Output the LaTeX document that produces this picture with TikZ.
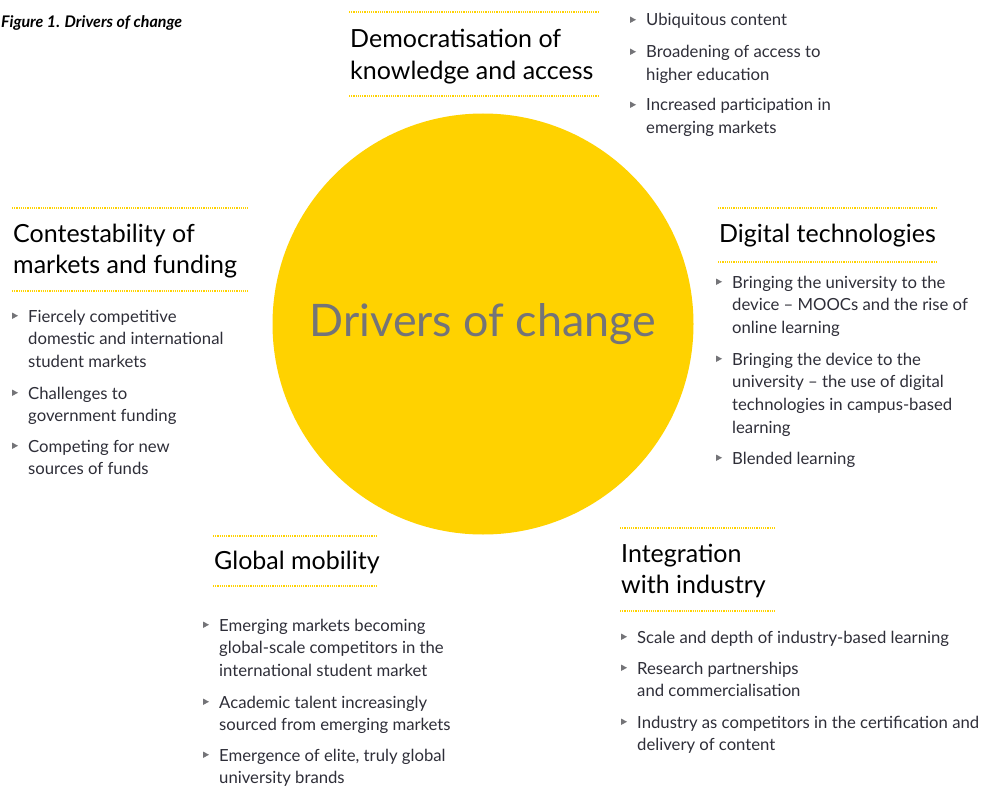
\documentclass[tikz,border=0pt]{standalone}
\usepackage{fontspec}
\setmainfont{Lato}
\definecolor{eyyellow}{HTML}{FFD200}
\definecolor{hubtext}{HTML}{747478}
\definecolor{bodytext}{HTML}{2E2E38}
\definecolor{tri}{HTML}{747478}
% #1 name, #2 x, #3 first baseline, #4 number of lines, #5 text
\newcommand{\bullitem}[5]{%
  \coordinate (#1t) at (#2,#3);
  \node[itemtext] (#1) at (#2,{#3+22.7*(#4-1)}) {#5};
  \fill[tri] ([xshift=-16pt,yshift=9.5pt]#1t) -- ++(0,6.5) -- ++(6,-3.25) -- cycle;
}
\newcommand{\headnode}[5]{%
  \node[headtext] (#1) at (#2,{#3+31.5*(#4-1)}) {#5};
}
\begin{document}
\begin{tikzpicture}[x=1pt,y=-1pt,
  itemtext/.style={anchor=base west, align=left, inner sep=0pt, text=bodytext,
    font=\fontsize{16.7}{22.7}\selectfont},
  headtext/.style={anchor=base west, align=left, inner sep=0pt, text=black,
    font=\fontsize{25}{31.5}\selectfont},
  dotline/.style={draw=eyyellow, line width=2pt, dash pattern=on 1.2pt off 1pt}]
\useasboundingbox (0,0) rectangle (985,789);
\node[anchor=base west, inner sep=0pt, font=\bfseries\itshape\fontsize{16}{18}\selectfont] (fig) at (1,28) {Figure 1. Drivers of change};

% hub
\node[circle, fill=eyyellow, minimum size=421pt, inner sep=0pt, text=hubtext,
  font=\fontsize{44.8}{50}\selectfont] (hub) at (483,324) {Drivers of change};

% Democratisation
\coordinate (t1a) at (349,12); \coordinate (t1b) at (598,12);
\coordinate (t2a) at (349,96); \coordinate (t2b) at (598,96);
\draw[dotline] (t1a) -- (t1b);
\draw[dotline] (t2a) -- (t2b);
\headnode{demo}{350}{48}{2}{Democratisation of\\knowledge and access}
\bullitem{d1}{646}{26}{1}{Ubiquitous content}
\bullitem{d2}{646}{58}{2}{Broadening of access to\\higher education}
\bullitem{d3}{646}{111}{2}{Increased participation in\\emerging markets}

% Contestability
\coordinate (c1a) at (12,208); \coordinate (c1b) at (248,208);
\coordinate (c2a) at (12,291); \coordinate (c2b) at (248,291);
\draw[dotline] (c1a) -- (c1b);
\draw[dotline] (c2a) -- (c2b);
\headnode{cont}{13}{242}{2}{Contestability of\\markets and funding}
\bullitem{c1}{28}{322}{3}{Fiercely competitive\\domestic and international\\student markets}
\bullitem{c2}{28}{399}{2}{Challenges to\\government funding}
\bullitem{c3}{28}{452}{2}{Competing for new\\sources of funds}

% Digital technologies
\coordinate (g1a) at (718,208); \coordinate (g1b) at (936,208);
\coordinate (g2a) at (718,262); \coordinate (g2b) at (936,262);
\draw[dotline] (g1a) -- (g1b);
\draw[dotline] (g2a) -- (g2b);
\headnode{digi}{719}{242}{1}{Digital technologies}
\bullitem{g1}{732}{288}{3}{Bringing the university to the\\device -- MOOCs and the rise of\\online learning}
\bullitem{g2}{732}{365}{4}{Bringing the device to the\\university -- the use of digital\\technologies in campus-based\\learning}
\bullitem{g3}{732}{464}{1}{Blended learning}

% Global mobility
\coordinate (m1a) at (213,536); \coordinate (m1b) at (376,536);
\coordinate (m2a) at (213,586); \coordinate (m2b) at (376,586);
\draw[dotline] (m1a) -- (m1b);
\draw[dotline] (m2a) -- (m2b);
\headnode{glob}{214}{569}{1}{Global mobility}
\bullitem{m1}{219}{631}{3}{Emerging markets becoming\\global-scale competitors in the\\international student market}
\bullitem{m2}{219}{708}{2}{Academic talent increasingly\\sourced from emerging markets}
\bullitem{m3}{219}{761}{2}{Emergence of elite, truly global\\university brands}

% Integration with industry
\coordinate (i1a) at (620,528); \coordinate (i1b) at (775,528);
\coordinate (i2a) at (620,611); \coordinate (i2b) at (775,611);
\draw[dotline] (i1a) -- (i1b);
\draw[dotline] (i2a) -- (i2b);
\headnode{integ}{621}{562}{2}{Integration\\with industry}
\bullitem{i1}{637}{643}{1}{Scale and depth of industry-based learning}
\bullitem{i2}{637}{674}{2}{Research partnerships\\and commercialisation}
\bullitem{i3}{637}{728}{2}{Industry as competitors in the certification and\\delivery of content}
\end{tikzpicture}
\end{document}
